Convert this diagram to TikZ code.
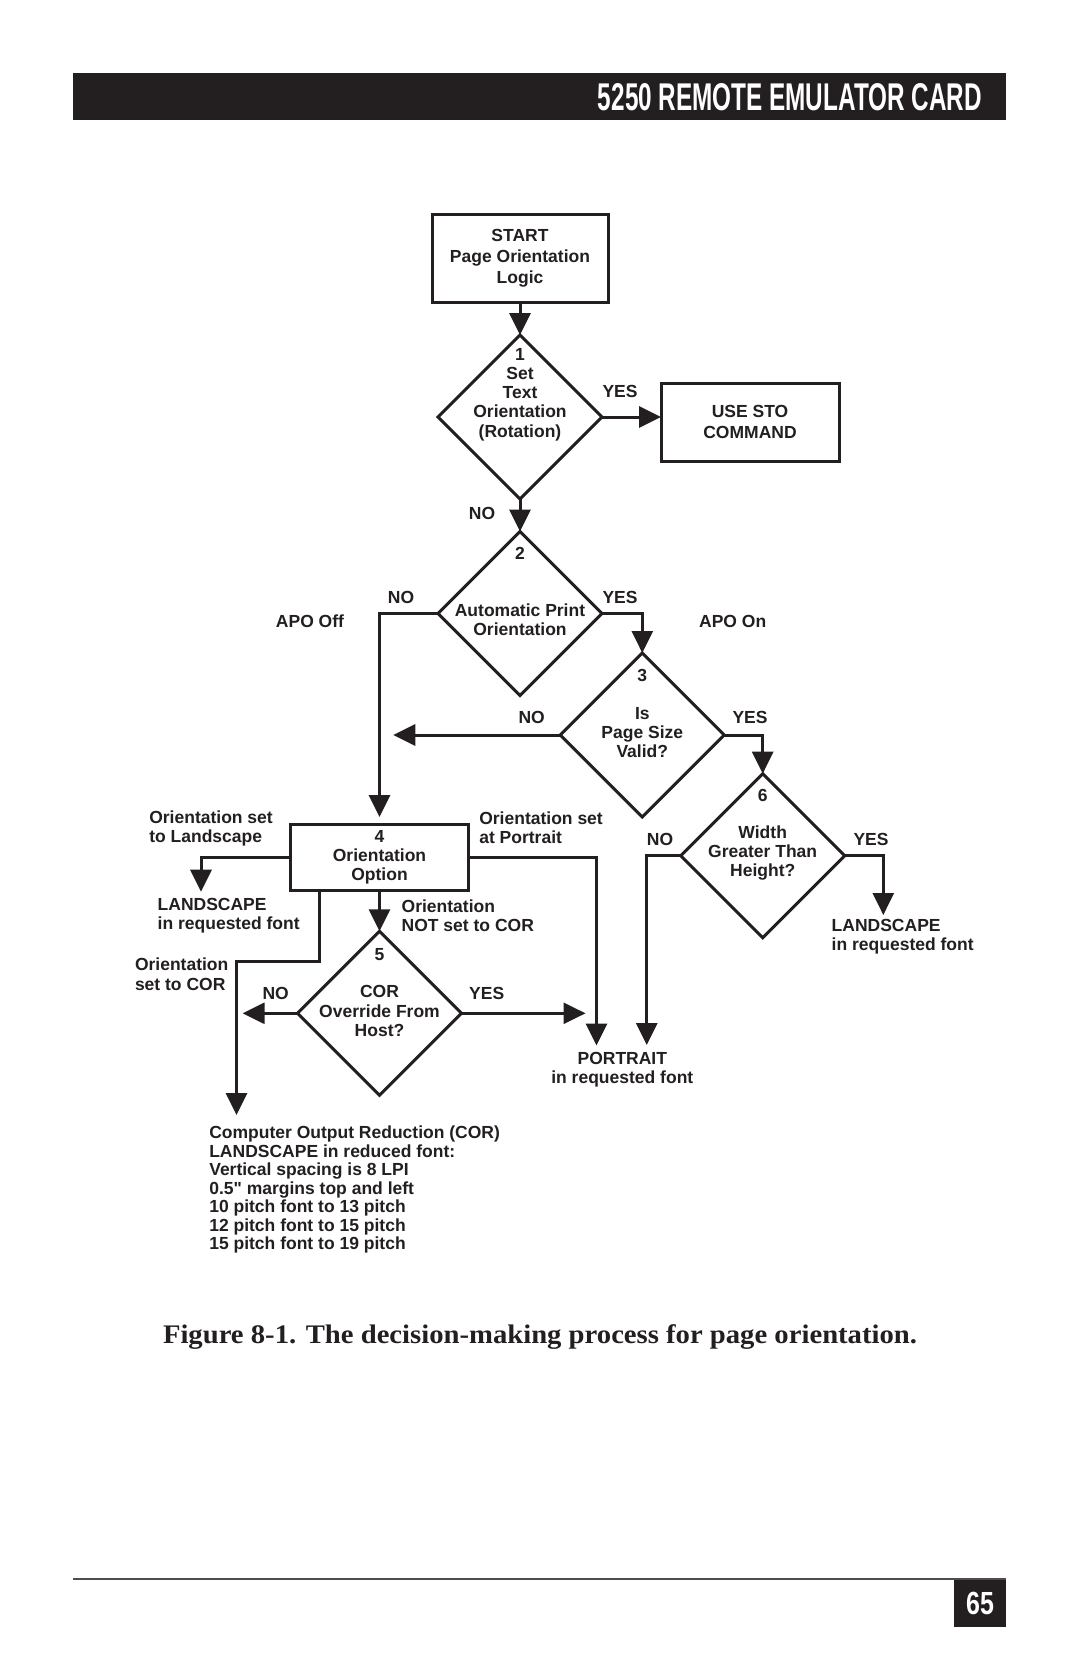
\documentclass[tikz,border=0pt]{standalone}
\usepackage{fontspec}
\usepackage{graphicx}
\usetikzlibrary{shapes.geometric,arrows.meta}
\setmainfont{Liberation Sans}
\newfontfamily\capfont{Liberation Serif}
\definecolor{ink}{RGB}{35,31,32}
\newcommand\straightdq{\XeTeXglyph\XeTeXcharglyph34\relax}
\begin{document}
\begin{tikzpicture}[x=0.5pt,y=-0.5pt,
  every node/.style={inner sep=0pt,outer sep=0pt,text=ink},
  ftxt/.style={font=\fontsize{8.75pt}{9.6pt}\selectfont\bfseries},
  boxed/.style={draw=ink,line width=1.5pt,align=center},
  dia/.style={draw=ink,line width=1.5pt,diamond,minimum width=82pt,minimum height=82pt},
  conn/.style={draw=ink,line width=1.5pt,-{Triangle[length=11pt,width=10.5pt]}}
]
\useasboundingbox (0,0) rectangle (1080,1669);
\fill[white] (0,0) rectangle (1080,1669);

% header
\fill[ink] (73,73) rectangle (1006,120);
\node[anchor=base east,text=white] (hdr) at (982,111) {\resizebox{192pt}{13.5pt}{\bfseries 5250 REMOTE EMULATOR CARD}};

% start
\node[boxed,minimum width=88pt,minimum height=43.5pt,font=\fontsize{8.75pt}{10.6pt}\selectfont\bfseries] (start) at (520,258.5) {START\\Page Orientation\\Logic};

% diamond 1
\node[dia] (d1) at (520,417) {};
\node[ftxt,align=center] (t1) at (520,394.5) {1\\Set\\Text\\Orientation\\(Rotation)};
\node[boxed,minimum width=89pt,minimum height=39pt,font=\fontsize{8.75pt}{10.5pt}\selectfont\bfseries] (sto) at (750,422) {USE STO\\COMMAND};
\node[ftxt] (y1) at (620,391) {YES};
\node[ftxt] (n1) at (482,513) {NO};

% diamond 2
\node[dia] (d2) at (520,613.5) {};
\node[ftxt] (k2) at (520,553.3) {2};
\node[ftxt,align=center] (t2) at (520,620) {Automatic Print\\Orientation};
\node[ftxt] (n2) at (401,597.3) {NO};
\node[ftxt] (y2) at (620,597.3) {YES};
\node[ftxt,anchor=east] (apooff) at (344,621) {APO Off};
\node[ftxt] (apoon) at (732.7,621) {APO On};

% diamond 3
\node[dia] (d3) at (642.3,735) {};
\node[ftxt] (k3) at (642.3,675) {3};
\node[ftxt,align=center] (t3) at (642.3,732.5) {Is\\Page Size\\Valid?};
\node[ftxt] (n3) at (531.7,717.3) {NO};
\node[ftxt] (y3) at (750,717.3) {YES};
\coordinate (e3) at (393.3,735);

% diamond 6
\node[dia] (d6) at (762.7,855.7) {};
\node[ftxt] (k6) at (762.7,795.7) {6};
\node[ftxt,align=center] (t6) at (762.7,853) {Width\\Greater Than\\Height?};
\node[ftxt] (n6) at (660,839) {NO};
\node[ftxt] (y6) at (871,839) {YES};
\node[ftxt,align=left,anchor=west] (land2) at (831.7,936.7) {LANDSCAPE\\in requested font};
\node[ftxt,align=center] (port) at (622.3,1070) {PORTRAIT\\in requested font};

% box 4
\node[boxed,minimum width=88.8pt,minimum height=33pt,ftxt] (b4) at (379.5,857) {4\\Orientation\\Option};
\node[ftxt,align=left,anchor=west] (olan) at (149.3,828.7) {Orientation set\\to Landscape};
\node[ftxt,align=left,anchor=west] (opor) at (479.3,828) {Orientation set\\at Portrait};
\node[ftxt,align=left,anchor=west] (land1) at (157.7,916) {LANDSCAPE\\in requested font};
\node[ftxt,align=left,anchor=west] (ocor) at (135,974.2) {Orientation\\set to COR};
\node[ftxt,align=left,anchor=west] (onot) at (401.7,915.5) {Orientation\\NOT set to COR};

% diamond 5
\node[dia] (d5) at (379.5,1013.3) {};
\node[ftxt] (k5) at (379.5,954.3) {5};
\node[ftxt,align=center] (t5) at (379.5,1011) {COR\\Override From\\Host?};
\node[ftxt] (n5) at (275.7,993.3) {NO};
\node[ftxt] (y5) at (486.7,993.3) {YES};

% COR block
\node[font=\fontsize{8.75pt}{9.25pt}\selectfont\bfseries,align=left,anchor=west] (corb) at (209.3,1189.5) {Computer Output Reduction (COR)\\LANDSCAPE in reduced font:\\Vertical spacing is 8 LPI\\0.5\straightdq{} margins top and left\\10 pitch font to 13 pitch\\12 pitch font to 15 pitch\\15 pitch font to 19 pitch};

% connectors
\coordinate (e6n) at (646.7,1045);
\coordinate (e6y) at (883.3,915);
\coordinate (e4l) at (201,891.7);
\coordinate (e4r) at (596.5,1045.5);
\coordinate (e4c) at (236.5,1115);
\coordinate (e5l) at (242.7,1013.3);
\coordinate (e5r) at (585.5,1013.3);

\draw[conn] (start.south) -- (d1.north);
\draw[conn] (d1.east) -- (d1.east -| sto.west);
\draw[conn] (d1.south) -- (d2.north);
\draw[conn] (d2.west) -| ([yshift=3.5pt]b4.north);
\draw[conn] (d2.east) -| (d3.north);
\draw[conn] (d3.west) -- (e3);
\draw[conn] (d3.east) -| (d6.north);
\draw[conn] (d6.west) -| (e6n);
\draw[conn] (d6.east) -| (e6y);
\draw[conn] (b4.west) -| (e4l);
\draw[conn] (b4.east) -| (e4r);
\draw[conn] (b4.south) -- (d5.north);
\draw[conn] ([xshift=14.15pt]b4.south west) -- ++(0,71) -| (e4c);
\draw[conn] (d5.west) -- (e5l);
\draw[conn] (d5.east) -- (e5r);

% caption
\node[anchor=base west] (cap) at (163,1343) {\resizebox{377pt}{\height}{\capfont\bfseries\fontsize{13.4pt}{16pt}\selectfont Figure 8-1. The decision-making process for page orientation.}};

% footer
\draw[ink!80,line width=1pt] (73,1579) -- (1006,1579);
\fill[ink] (954,1580) rectangle (1006,1627);
\node[text=white] (pg) at (980,1603.5) {\scalebox{0.78}[1]{\fontsize{16pt}{16pt}\selectfont\bfseries 65}};
\end{tikzpicture}
\end{document}
